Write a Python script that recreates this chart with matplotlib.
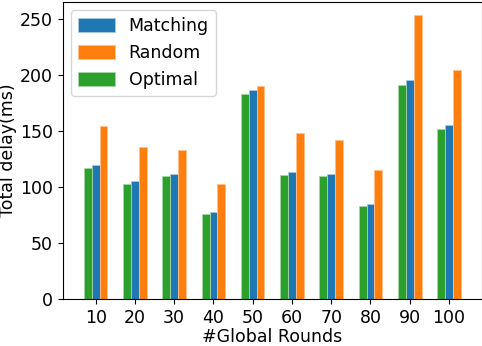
import matplotlib
matplotlib.use("Agg")
import matplotlib.pyplot as plt
import numpy as np

rounds = ["10", "20", "30", "40", "50", "60", "70", "80", "90", "100"]
optimal = [117, 103, 110, 76, 183, 111, 110, 83, 191, 152]
matching = [120, 105, 112, 78, 186, 113, 112, 85, 195, 155]
random_ = [154, 136, 133, 103, 190, 148, 142, 115, 253, 204]

plt.rcParams['font.size'] = 12.5
fig, ax = plt.subplots(figsize=(4.82, 3.46), dpi=100)

X_axis = np.arange(len(rounds))
w = 0.2
ax.bar(X_axis, matching, w, color='#1f77b4', edgecolor='#a9c8e0', linewidth=0.6, label='Matching')
ax.bar(X_axis + w, random_, w, color='#ff7f0e', edgecolor='#ffc08a', linewidth=0.6, label='Random')
ax.bar(X_axis - w, optimal, w, color='#2ca02c', edgecolor='#a5d6a5', linewidth=0.6, label='Optimal')

ax.set_xticks(X_axis)
ax.set_xticklabels(rounds)
ax.set_xlim(-0.84, 9.84)
ax.set_ylim(0, 265)
ax.set_xlabel("#Global Rounds", labelpad=1)
ax.set_ylabel("Total delay(ms)", labelpad=2)
ax.legend(loc='upper left', handlelength=2.1, handleheight=0.85)

fig.subplots_adjust(left=0.13, right=1.0, top=0.995, bottom=0.135)
fig.savefig("out.png")
